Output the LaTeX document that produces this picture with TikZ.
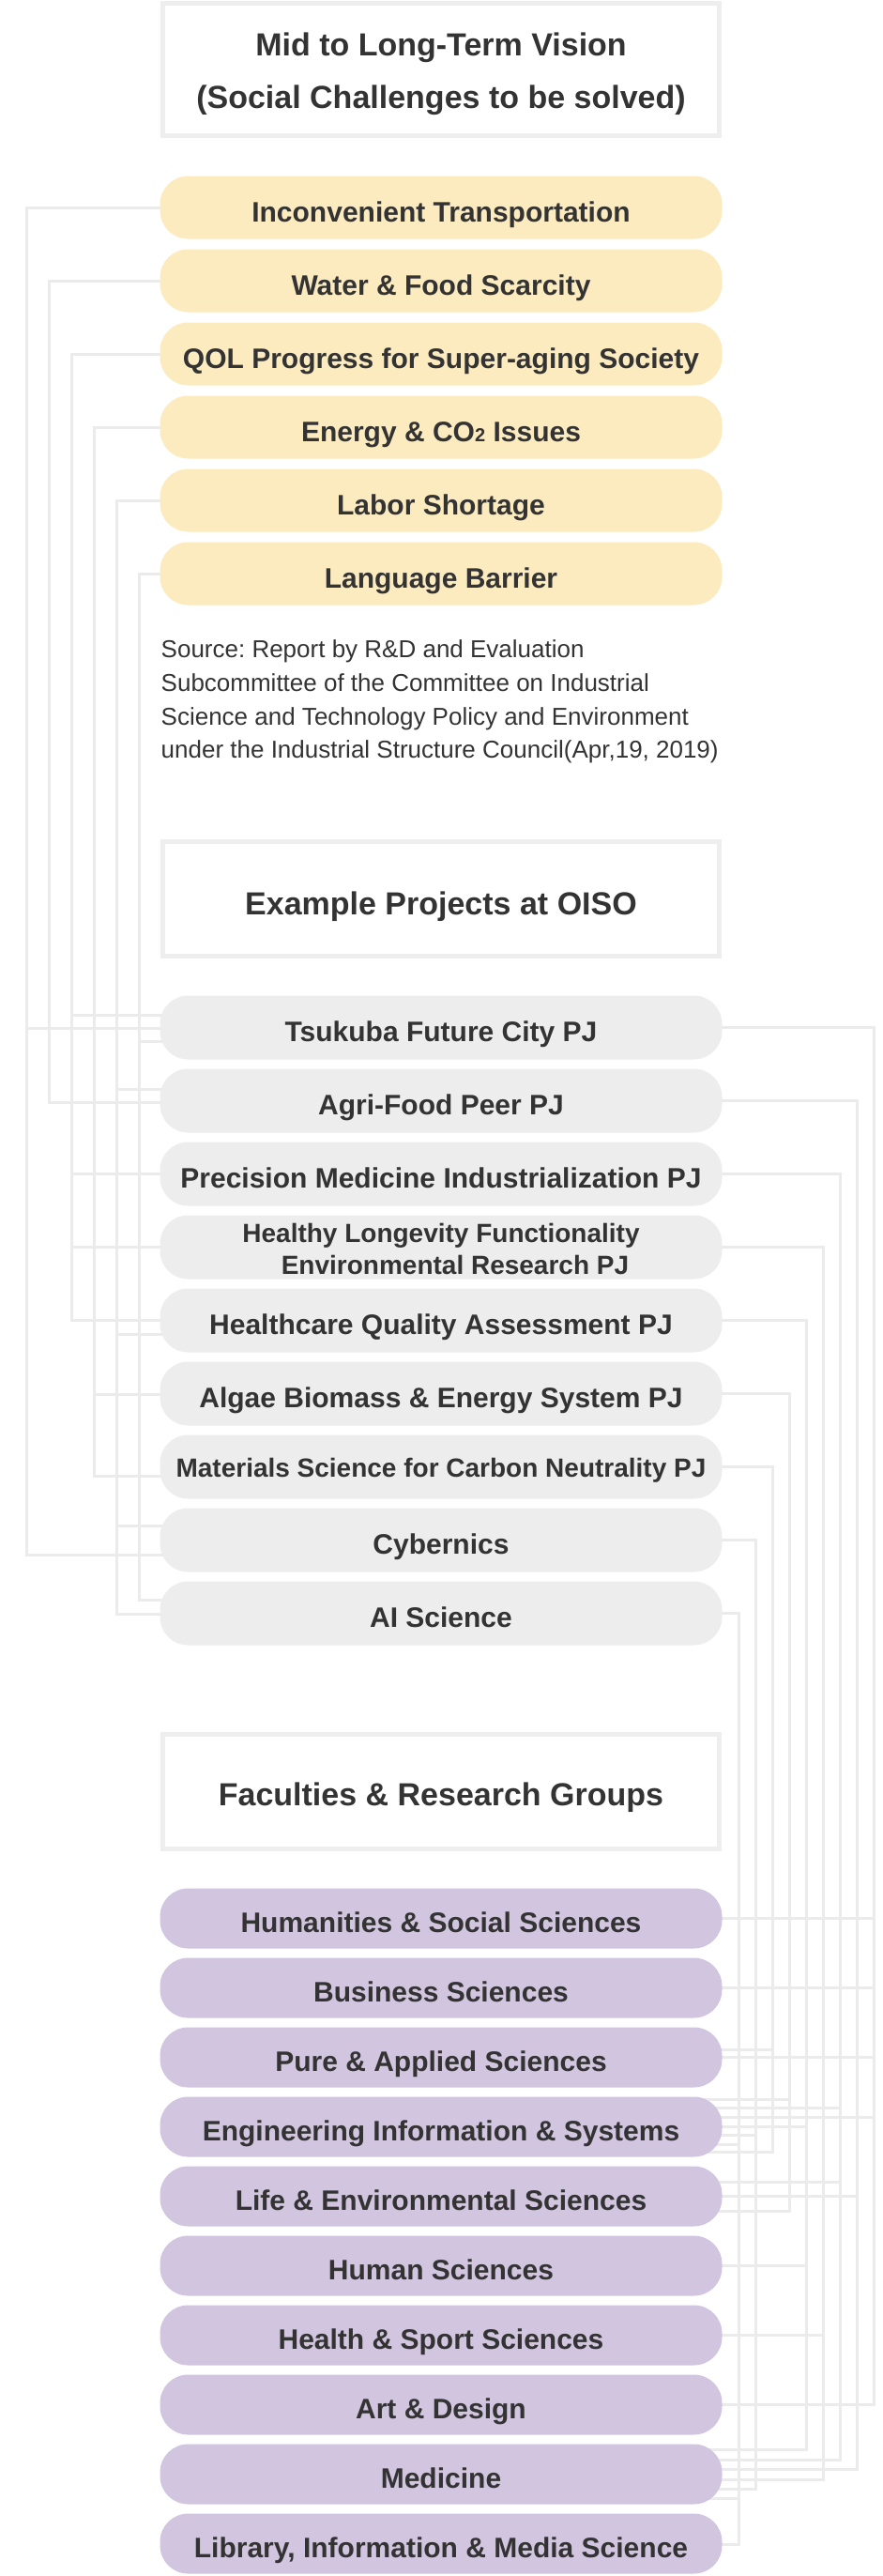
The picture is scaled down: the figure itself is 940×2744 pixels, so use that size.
\documentclass[tikz,border=0pt]{standalone}
\usepackage{fontspec}
\setmainfont{Liberation Sans}
\usepackage{xcolor}
\usepackage{tikz}
\usetikzlibrary{positioning, backgrounds}

\definecolor{ink}{HTML}{333333}
\definecolor{boxline}{HTML}{EEEEEE}
\definecolor{linkgray}{HTML}{EBEBEB}
\definecolor{challengefill}{HTML}{FDEBC0}
\definecolor{projectfill}{HTML}{EDEDED}
\definecolor{facultyfill}{HTML}{D2C5E0}

\begin{document}
\begin{tikzpicture}[
    x=1pt, y=1pt,
    header/.style={
        rectangle, draw=boxline, line width=5pt, fill=white, minimum width=593pt,
        text=ink, align=center, font=\fontsize{34}{56}\selectfont\bfseries
    },
    pill/.style={
        rectangle, rounded corners=30pt, minimum width=599pt, inner sep=0pt, outer sep=0pt,
        text=ink, align=center, font=\fontsize{30}{34}\selectfont\bfseries,
        text height=30pt, text depth=0pt
    },
    challenge/.style={pill, fill=challengefill, minimum height=67pt},
    project/.style={pill, fill=projectfill, minimum height=68pt},
    faculty/.style={pill, fill=facultyfill, minimum height=64pt},
    note/.style={inner sep=0pt, align=left, text=ink, font=\fontsize{26}{35.7}\selectfont\frenchspacing},
    link/.style={draw=linkgray, line width=3pt}
]
\useasboundingbox (0,0) rectangle (940,-2744);

% Section 1: Vision
\node[header, minimum height=141pt, text height=83pt, text depth=0pt] (vision) at (470,-73.5) {Mid to Long-Term Vision\\(Social Challenges to be solved)};

\node[challenge, below=41pt of vision] (trans) {Inconvenient Transportation};
\node[challenge, below=11pt of trans] (water) {Water \& Food Scarcity};
\node[challenge, below=11pt of water] (qol) {QOL Progress for Super-aging Society};
\node[challenge, below=11pt of qol] (energy) {Energy \& CO{\fontsize{20}{20}\selectfont 2} Issues};
\node[challenge, below=11pt of energy] (labor) {Labor Shortage};
\node[challenge, below=11pt of labor] (lang) {Language Barrier};

% Source
\node[note, text height=126pt, text depth=0pt, below right=37pt and 1pt of lang.south west] (source) {Source: Report by R\&D and Evaluation\\Subcommittee of the Committee on Industrial\\Science and Technology Policy and Environment\\under the Industrial Structure Council(Apr,19, 2019)};

% Section 2: Projects
\node[header, minimum height=122pt, text height=35pt, text depth=0pt, below=249pt of lang] (projects) {Example Projects at OISO};

\node[project, below=40pt of projects] (tsukuba) {Tsukuba Future City PJ};
\node[project, below=10pt of tsukuba] (agri) {Agri-Food Peer PJ};
\node[project, below=10pt of agri] (prec) {Precision Medicine Industrialization PJ};
\node[project, below=10pt of prec, font=\fontsize{28}{33.6}\selectfont\bfseries, text height=57pt, text depth=0pt] (healthy) {Healthy Longevity Functionality\\\hspace*{30pt}Environmental Research PJ};
\node[project, below=10pt of healthy] (care) {Healthcare Quality Assessment PJ};
\node[project, below=10pt of care] (algae) {Algae Biomass \& Energy System PJ};
\node[project, below=10pt of algae, font=\fontsize{28}{34}\selectfont\bfseries, text height=22pt] (mat) {Materials Science for Carbon Neutrality PJ};
\node[project, below=10pt of mat] (cyb) {Cybernics};
\node[project, below=10pt of cyb] (ai) {AI Science};

% Section 3: Faculties
\node[header, minimum height=122pt, text height=31pt, text depth=0pt, below=92pt of ai] (faculties) {Faculties \& Research Groups};

\node[faculty, below=40pt of faculties] (hum) {Humanities \& Social Sciences};
\node[faculty, below=10pt of hum] (bus) {Business Sciences};
\node[faculty, below=10pt of bus] (pure) {Pure \& Applied Sciences};
\node[faculty, below=10pt of pure] (eng) {Engineering Information \& Systems};
\node[faculty, below=10pt of eng] (life) {Life \& Environmental Sciences};
\node[faculty, below=10pt of life] (human) {Human Sciences};
\node[faculty, below=10pt of human] (health) {Health \& Sport Sciences};
\node[faculty, below=10pt of health] (art) {Art \& Design};
\node[faculty, below=10pt of art] (med) {Medicine};
\node[faculty, below=10pt of med] (lib) {Library, Information \& Media Science};

\begin{pgfonlayer}{background}
% Rails left of the challenges
\coordinate (lTrans) at ([xshift=-142pt]trans.west);
\coordinate (lWater) at ([xshift=-118pt]water.west);
\coordinate (lQol) at ([xshift=-94pt]qol.west);
\coordinate (lEnergy) at ([xshift=-70pt]energy.west);
\coordinate (lLabor) at ([xshift=-46pt]labor.west);
\coordinate (lLang) at ([xshift=-22pt]lang.west);

% Rails right of the projects
\coordinate (rTsukuba) at ([xshift=162pt]tsukuba.east);
\coordinate (rAgri) at ([xshift=144pt]agri.east);
\coordinate (rPrec) at ([xshift=126pt]prec.east);
\coordinate (rHealthy) at ([xshift=108pt]healthy.east);
\coordinate (rCare) at ([xshift=90pt]care.east);
\coordinate (rAlgae) at ([xshift=72pt]algae.east);
\coordinate (rMat) at ([xshift=54pt]mat.east);
\coordinate (rCyb) at ([xshift=36pt]cyb.east);
\coordinate (rAi) at ([xshift=18pt]ai.east);

% Links: challenges to projects
\draw[link] (trans.center) -- (lTrans) |- ([yshift=-1pt]tsukuba.center);
\draw[link] (trans.center) -- (lTrans) |- ([yshift=-16pt]cyb.center);
\draw[link] (water.center) -- (lWater) |- ([yshift=-2pt]agri.center);
\draw[link] (qol.center) -- (lQol) |- ([yshift=13pt]tsukuba.center);
\draw[link] (qol.center) -- (lQol) |- (prec.center);
\draw[link] (qol.center) -- (lQol) |- (healthy.center);
\draw[link] (qol.center) -- (lQol) |- (care.center);
\draw[link] (energy.center) -- (lEnergy) |- ([yshift=-1pt]algae.center);
\draw[link] (energy.center) -- (lEnergy) |- ([yshift=-10pt]mat.center);
\draw[link] (labor.center) -- (lLabor) |- ([yshift=12pt]agri.center);
\draw[link] (labor.center) -- (lLabor) |- ([yshift=-15pt]care.center);
\draw[link] (labor.center) -- (lLabor) |- ([yshift=15pt]cyb.center);
\draw[link] (labor.center) -- (lLabor) |- ([yshift=-1pt]ai.center);
\draw[link] (lang.center) -- (lLang) |- ([yshift=-15pt]tsukuba.center);
\draw[link] (lang.center) -- (lLang) |- ([yshift=14pt]ai.center);

% Links: projects to faculties
\draw[link] (tsukuba.center) -- (rTsukuba) |- (hum.center);
\draw[link] (tsukuba.center) -- (rTsukuba) |- (bus.center);
\draw[link] (tsukuba.center) -- (rTsukuba) |- (pure.center);
\draw[link] (tsukuba.center) -- (rTsukuba) |- ([yshift=10pt]eng.center);
\draw[link] (tsukuba.center) -- (rTsukuba) |- (art.center);
\draw[link] (agri.center) -- (rAgri) |- (life.center);
\draw[link] (agri.center) -- (rAgri) |- ([yshift=5pt]med.center);
\draw[link] (prec.center) -- (rPrec) |- ([yshift=20pt]eng.center);
\draw[link] (prec.center) -- (rPrec) |- ([yshift=15pt]life.center);
\draw[link] (prec.center) -- (rPrec) |- ([yshift=15.5pt]med.center);
\draw[link] (healthy.center) -- (rHealthy) |- (health.center);
\draw[link] (healthy.center) -- (rHealthy) |- ([yshift=-5.5pt]med.center);
\draw[link] (care.center) -- (rCare) |- (eng.center);
\draw[link] (care.center) -- (rCare) |- (human.center);
\draw[link] (care.center) -- (rCare) |- ([yshift=26pt]med.center);
\draw[link] (algae.center) -- (rAlgae) |- ([yshift=29pt]eng.center);
\draw[link] (algae.center) -- (rAlgae) |- ([yshift=-16pt]life.center);
\draw[link] (mat.center) -- (rMat) |- ([yshift=8.5pt]pure.center);
\draw[link] (mat.center) -- (rMat) |- ([yshift=-27pt]eng.center);
\draw[link] (cyb.center) -- (rCyb) |- ([yshift=-9pt]eng.center);
\draw[link] (cyb.center) -- (rCyb) |- ([yshift=-15.5pt]med.center);
\draw[link] (ai.center) -- (rAi) |- ([yshift=-19pt]eng.center);
\draw[link] (ai.center) -- (rAi) |- ([yshift=-25.5pt]med.center);
\draw[link] (ai.center) -- (rAi) |- ([yshift=-1pt]lib.center);
\end{pgfonlayer}

\end{tikzpicture}
\end{document}
